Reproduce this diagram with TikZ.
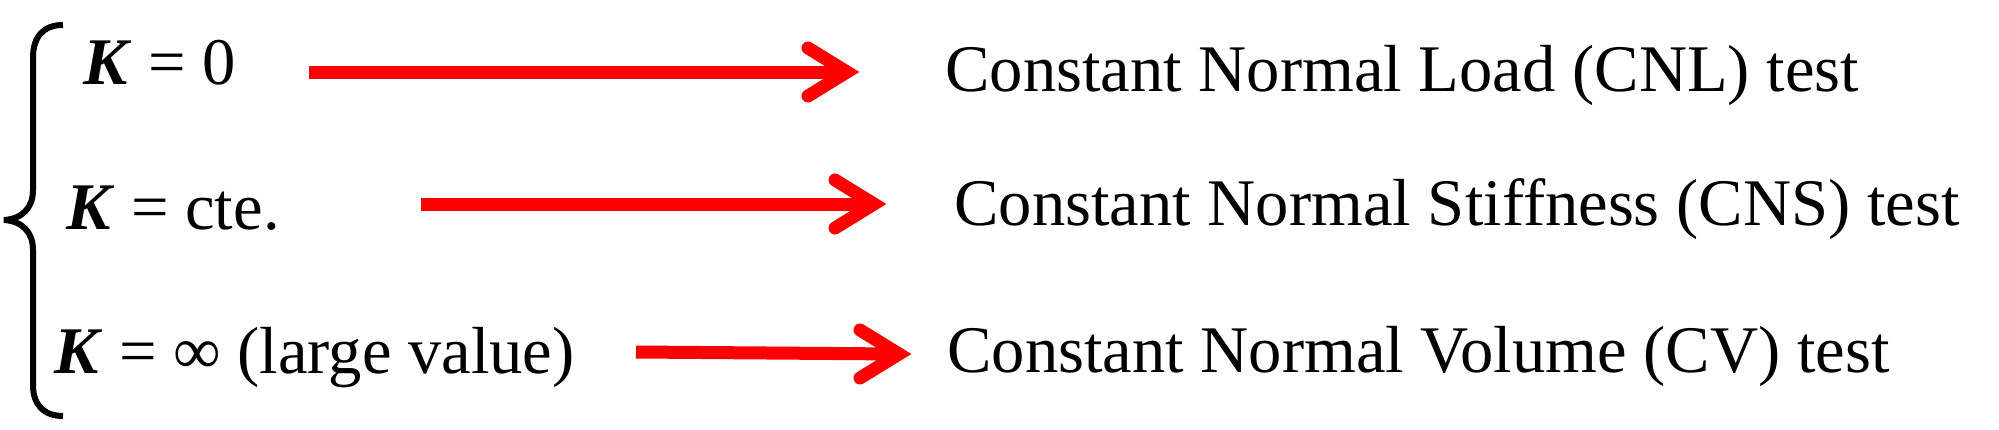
\documentclass[tikz,border=0pt]{standalone}
\usepackage{fontspec}
\setmainfont{Liberation Serif}
\usetikzlibrary{calc}
\begin{document}
\begin{tikzpicture}[x=0.5pt,y=-0.5pt,
  lbl/.style={anchor=base west,inner sep=0pt,font=\fontsize{33.3}{40}\selectfont},
  shaft/.style={draw=red,line width=6.5pt,line cap=butt},
  head/.style={draw=red,line width=6.5pt,line cap=round,line join=miter},
  brace/.style={draw=black,line width=3pt}]
\useasboundingbox (0,0) rectangle (1999,429);
% left labels
\node[lbl] (l1) at (83,84) {\textbf{\textit{K}} = 0};
\node[lbl] (l2) at (66,229) {\textbf{\textit{K}} = cte.};
\node[lbl] (l3) at (54,373) {\textbf{\textit{K}} = ∞ (large value)};
% right labels
\node[lbl] (r1) at (945,91) {Constant Normal Load (CNL) test};
\node[lbl] (r2) at (954,225) {Constant Normal Stiffness (CNS) test};
\node[lbl] (r3) at (947,372) {Constant Normal Volume (CV) test};
% brace
\draw[brace] (63,25) .. controls (44,25) and (33,36) .. (33,58) -- (33,190)
  .. controls (33,208) and (22,219) .. (4,220)
  .. controls (22,221) and (33,232) .. (33,250) -- (33,385)
  .. controls (33,405) and (44,416) .. (63,416);
% arrows
\coordinate (s1) at (309,72);  \coordinate (t1) at (860,72);
\coordinate (s2) at (421,204); \coordinate (t2) at (887,204);
\coordinate (s3) at (636,352); \coordinate (t3) at (912,354);
\foreach \i in {1,2,3}{
  \draw[shaft] (s\i) -- ($(t\i)+(-13,0)$);
  \draw[head] ($(t\i)+(-52,-24)$) -- ($(t\i)+(-13,0)$) -- ($(t\i)+(-52,24)$);
}
\end{tikzpicture}
\end{document}
